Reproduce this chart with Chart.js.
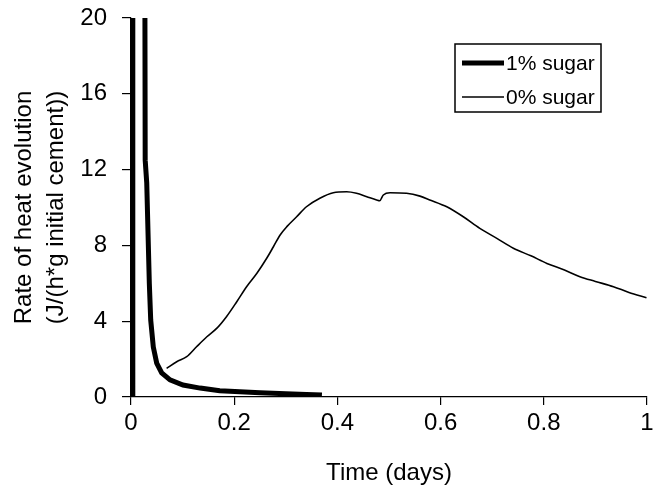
<!DOCTYPE html>
<html>
<head>
<meta charset="utf-8">
<script src="https://cdn.jsdelivr.net/npm/chart.js@4/dist/chart.umd.min.js"></script>
<style>
  html, body { margin: 0; padding: 0; background: #fff; }
  #wrap { width: 667px; height: 490px; }
</style>
</head>
<body>
<div id="wrap"><canvas id="c"></canvas></div>
<script>
// 1% sugar (thick line) - time in days, rate in J/(h*g initial cement)
const timeSugar1 = [0.002, 0.0035, 0.026, 0.027, 0.0275, 0.0305, 0.0355, 0.0382, 0.0432, 0.0498, 0.0595, 0.0756, 0.1008, 0.134, 0.172, 0.211, 0.25, 0.3, 0.34, 0.37];
const rateSugar1 = [0, 60, 60, 20, 12.5, 11.3, 6.0, 4.06, 2.64, 1.79, 1.27, 0.90, 0.63, 0.47, 0.33, 0.28, 0.22, 0.17, 0.13, 0.1];

// 0% sugar (thin line)
const timeSugar0 = [0.069, 0.0886, 0.108, 0.127, 0.147, 0.166, 0.185, 0.205, 0.224, 0.244, 0.263, 0.276, 0.289, 0.302, 0.321, 0.34, 0.366, 0.392, 0.418, 0.437, 0.457, 0.476, 0.482, 0.489, 0.502, 0.534, 0.56, 0.579, 0.612, 0.644, 0.676, 0.709, 0.741, 0.775, 0.806, 0.84, 0.87, 0.9, 0.935, 0.965, 0.999];
const rateSugar0 = [1.51, 1.86, 2.13, 2.65, 3.18, 3.62, 4.24, 5.03, 5.82, 6.53, 7.32, 7.93, 8.55, 8.99, 9.51, 10.04, 10.49, 10.78, 10.83, 10.75, 10.57, 10.4, 10.36, 10.66, 10.78, 10.75, 10.6, 10.4, 10.04, 9.51, 8.9, 8.37, 7.85, 7.45, 7.05, 6.7, 6.35, 6.1, 5.82, 5.52, 5.24];

const xTicks = [0, 0.2, 0.4, 0.6, 0.8, 1];
const yTicks = [0, 4, 8, 12, 16, 20];
const legendLabels = ['1% sugar', '0% sugar'];

const FONT = 'Liberation Sans, Arial, sans-serif';

const toPoints = (xs, ys) => xs.map((x, i) => ({ x, y: ys[i] }));

// legend box drawn inside the plot area, top right
const boxLegend = {
  id: 'boxLegend',
  afterDraw(chart){
    const { ctx, chartArea: a } = chart;
    const x0 = a.right - 192, y0 = a.top + 26, w = 146, h = 68;
    ctx.save();
    ctx.fillStyle = '#fff';
    ctx.fillRect(x0, y0, w, h);
    ctx.strokeStyle = '#000';
    ctx.lineWidth = 1.5;
    ctx.strokeRect(x0, y0, w, h);
    ctx.font = '21px ' + FONT;
    ctx.fillStyle = '#000';
    ctx.textBaseline = 'middle';
    chart.data.datasets.forEach((ds, i) => {
      const y = y0 + 19 + i * 34;
      ctx.beginPath();
      ctx.lineWidth = ds.borderWidth;
      ctx.moveTo(x0 + 7, y);
      ctx.lineTo(x0 + 49, y);
      ctx.stroke();
      ctx.fillText(legendLabels[i], x0 + 51, y + 1);
    });
    ctx.restore();
  }
};

new Chart(document.getElementById('c'), {
  type: 'line',
  data: {
    datasets: [
      { data: toPoints(timeSugar1, rateSugar1), borderColor: '#000', borderWidth: 5, pointRadius: 0, tension: 0, fill: false },
      { data: toPoints(timeSugar0, rateSugar0), borderColor: '#000', borderWidth: 1.6, pointRadius: 0, cubicInterpolationMode: 'monotone', fill: false }
    ]
  },
  options: {
    responsive: true,
    maintainAspectRatio: false,
    animation: false,
    layout: { padding: { top: 18, right: 20, left: 0, bottom: 0 } },
    plugins: { legend: { display: false }, tooltip: { enabled: false } },
    scales: {
      x: {
        type: 'linear', min: 0, max: 1,
        afterFit(s){ s.height = 93; s.paddingLeft = 0; s.paddingRight = 0; },
        afterBuildTicks(s){ s.ticks = xTicks.map(v => ({ value: v })); },
        border: { color: '#000', width: 1.2 },
        grid: { drawOnChartArea: false, color: '#000', tickLength: 8, lineWidth: 1.2 },
        ticks: { color: '#000', font: { family: FONT, size: 24 }, padding: 4, maxRotation: 0,
                 callback: v => String(v) },
        title: { display: true, text: 'Time (days)', color: '#000', font: { family: FONT, size: 24 }, padding: { top: 0, bottom: 2 } }
      },
      y: {
        type: 'linear', min: 0, max: 20,
        afterFit(s){ s.width = 131; s.paddingTop = 0; s.paddingBottom = 0; },
        afterBuildTicks(s){ s.ticks = yTicks.map(v => ({ value: v })); },
        border: { color: '#000', width: 1.2 },
        grid: { drawOnChartArea: false, color: '#000', tickLength: 9, lineWidth: 1.2 },
        ticks: { color: '#000', font: { family: FONT, size: 24 }, padding: 15 },
        title: { display: true, text: ['Rate of heat evolution', '(J/(h*g initial cement))'], color: '#000',
                 font: { family: FONT, size: 24, lineHeight: 1.333 }, padding: { top: 8 } }
      }
    }
  },
  plugins: [boxLegend]
});
</script>
</body>
</html>
